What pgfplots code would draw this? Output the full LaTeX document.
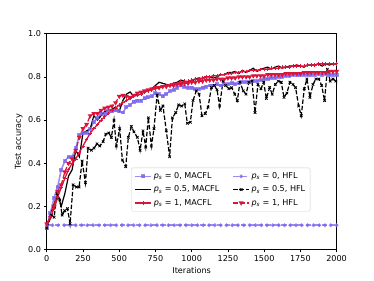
\documentclass[border=0pt]{standalone}
\usepackage{pgfplots}
\pgfplotsset{compat=1.18}
\usepackage{fontspec}
\setmainfont{DejaVu Sans}
\definecolor{msb}{HTML}{7B68EE}
\definecolor{crim}{HTML}{DC143C}
\newcommand{\ps}{\textit{p}\textsubscript{\textit{s}}}
\begin{document}
\begin{tikzpicture}
\begin{axis}[
  scale only axis, width=4.96in, height=3.696in,
  xmin=0, xmax=2000, ymin=0, ymax=1,
  xtick={0,250,...,2000}, ytick={0,0.2,...,1.0},
  /pgf/number format/assume math mode=true,
  /pgf/number format/1000 sep={},
  yticklabel style={/pgf/number format/fixed,/pgf/number format/fixed zerofill,/pgf/number format/precision=1},
  tick align=outside, tick pos=left, major tick length=3.5pt,
  tick style={black, line width=0.8pt},
  axis line style={line width=0.8pt},
  xlabel={Iterations}, ylabel={Test accuracy},
  font=\fontsize{10pt}{12pt}\selectfont,
  legend columns=2,
  legend style={at={(0.6,0.278)}, anchor=center, draw=black!20, rounded corners=2pt,
    fill=white, fill opacity=0.8, text opacity=1, font=\fontsize{10pt}{12pt}\selectfont,
    /tikz/every even column/.append style={column sep=14pt},
    row sep=3.5pt, inner sep=4pt},
  legend cell align=left,
  legend image code/.code={\draw[mark repeat=2,mark phase=2] plot coordinates {(0pt,0pt)(10pt,0pt)(20pt,0pt)};},
]
% MACFL ps=0
\addplot[color=msb, opacity=0.75, line width=1.9pt, mark=square*, mark size=1.5pt] table {
0 0.10
25 0.17
50 0.24
75 0.29
100 0.37
125 0.41
150 0.43
175 0.43
200 0.47
225 0.53
250 0.54
275 0.54
300 0.56
325 0.59
350 0.61
375 0.63
400 0.63
425 0.64
450 0.64
475 0.645
500 0.64
525 0.635
550 0.66
575 0.67
600 0.685
625 0.69
650 0.69
675 0.70
700 0.705
725 0.71
750 0.725
775 0.72
800 0.71
825 0.72
850 0.735
875 0.74
900 0.75
925 0.76
950 0.755
975 0.75
1000 0.75
1025 0.745
1050 0.745
1075 0.75
1100 0.755
1125 0.76
1150 0.76
1175 0.765
1200 0.76
1225 0.765
1250 0.765
1275 0.77
1300 0.765
1325 0.77
1350 0.775
1375 0.775
1400 0.775
1425 0.78
1450 0.78
1475 0.785
1500 0.79
1525 0.79
1550 0.795
1575 0.795
1600 0.80
1625 0.80
1650 0.805
1675 0.805
1700 0.81
1725 0.81
1750 0.81
1775 0.81
1800 0.81
1825 0.81
1850 0.81
1875 0.815
1900 0.81
1925 0.815
1950 0.81
1975 0.81
2000 0.81
};
\addlegendentry{\ps\ = 0, MACFL}
% HFL ps=0
\addplot[color=msb, opacity=0.75, line width=1.9pt, dash pattern=on 7pt off 3pt, mark=*, mark size=1.3pt, mark options={solid}] table {
0 0.113
40 0.113
80 0.113
120 0.113
160 0.113
200 0.113
240 0.113
280 0.113
320 0.113
360 0.113
400 0.113
440 0.113
480 0.113
520 0.113
560 0.113
600 0.113
640 0.113
680 0.113
720 0.113
760 0.113
800 0.113
840 0.113
880 0.113
920 0.113
960 0.113
1000 0.113
1040 0.113
1080 0.113
1120 0.113
1160 0.113
1200 0.113
1240 0.113
1280 0.113
1320 0.113
1360 0.113
1400 0.113
1440 0.113
1480 0.113
1520 0.113
1560 0.113
1600 0.113
1640 0.113
1680 0.113
1720 0.113
1760 0.113
1800 0.113
1840 0.113
1880 0.113
1920 0.113
1960 0.113
2000 0.113
};
\addlegendentry{\ps\ = 0, HFL}
% MACFL ps=0.5
\addplot[color=black, line width=1.5pt, mark=none] table {
0 0.10
25 0.16
50 0.21
75 0.26
100 0.20
125 0.26
150 0.34
175 0.37
200 0.46
225 0.43
250 0.54
275 0.55
300 0.56
325 0.62
350 0.60
375 0.62
400 0.64
425 0.645
450 0.65
475 0.66
500 0.64
525 0.69
550 0.72
575 0.73
600 0.71
625 0.725
650 0.73
675 0.735
700 0.74
725 0.745
750 0.76
775 0.775
800 0.77
825 0.765
850 0.76
875 0.77
900 0.775
925 0.785
950 0.78
975 0.775
1000 0.78
1025 0.79
1050 0.795
1075 0.79
1100 0.80
1125 0.80
1150 0.795
1175 0.80
1200 0.81
1225 0.81
1250 0.82
1275 0.82
1300 0.825
1325 0.815
1350 0.83
1375 0.82
1400 0.83
1425 0.84
1450 0.825
1475 0.835
1500 0.84
1525 0.845
1550 0.835
1575 0.845
1600 0.85
1625 0.84
1650 0.845
1675 0.85
1700 0.85
1725 0.855
1750 0.85
1775 0.845
1800 0.855
1825 0.855
1850 0.855
1875 0.86
1900 0.85
1925 0.86
1950 0.855
1975 0.86
2000 0.86
};
\addlegendentry{\ps\ = 0.5, MACFL}
% HFL ps=0.5
\addplot[color=black, line width=1.5pt, dash pattern=on 5.5pt off 2.4pt, mark=x, mark size=2.2pt, mark options={solid, line width=1pt}] table {
0 0.10
32 0.16
51 0.15
71 0.26
90 0.23
106 0.16
124 0.18
143 0.19
161 0.12
182 0.30
205 0.29
223 0.29
244 0.41
267 0.31
285 0.47
308 0.46
326 0.47
347 0.49
366 0.48
389 0.50
407 0.535
428 0.54
446 0.52
464 0.60
480 0.48
503 0.56
522 0.415
545 0.385
563 0.52
584 0.57
602 0.545
625 0.52
644 0.46
664 0.55
683 0.475
701 0.61
722 0.48
740 0.56
761 0.715
784 0.645
802 0.665
825 0.55
848 0.43
867 0.61
890 0.635
910 0.67
931 0.665
952 0.675
970 0.585
991 0.59
1009 0.69
1032 0.735
1051 0.72
1071 0.62
1094 0.63
1113 0.66
1136 0.75
1156 0.76
1175 0.74
1193 0.665
1216 0.78
1234 0.76
1257 0.745
1276 0.75
1297 0.72
1315 0.69
1333 0.775
1356 0.735
1375 0.72
1395 0.775
1416 0.78
1437 0.635
1457 0.765
1478 0.745
1497 0.775
1515 0.70
1538 0.75
1556 0.72
1577 0.765
1598 0.78
1618 0.775
1637 0.705
1657 0.725
1678 0.775
1699 0.765
1717 0.75
1738 0.665
1756 0.62
1777 0.745
1795 0.79
1816 0.705
1837 0.765
1857 0.79
1878 0.79
1897 0.76
1917 0.69
1936 0.835
1956 0.78
1975 0.79
1995 0.78
};
\addlegendentry{\ps\ = 0.5, HFL}
% MACFL ps=1
\addplot[color=crim, line width=1.6pt, mark=+, mark size=2.2pt, mark options={line width=1pt}] table {
0 0.12
25 0.15
50 0.19
75 0.24
100 0.29
125 0.33
150 0.37
175 0.40
200 0.42
225 0.45
250 0.48
275 0.51
300 0.54
325 0.56
350 0.58
375 0.60
400 0.615
425 0.63
450 0.645
475 0.655
500 0.67
525 0.68
550 0.69
575 0.70
600 0.71
625 0.715
650 0.72
675 0.73
700 0.735
725 0.74
750 0.745
775 0.75
800 0.755
825 0.76
850 0.765
875 0.77
900 0.77
925 0.775
950 0.78
975 0.78
1000 0.785
1025 0.79
1050 0.79
1075 0.795
1100 0.80
1125 0.80
1150 0.805
1175 0.805
1200 0.81
1225 0.81
1250 0.815
1275 0.815
1300 0.82
1325 0.82
1350 0.825
1375 0.825
1400 0.83
1425 0.83
1450 0.83
1475 0.835
1500 0.835
1525 0.835
1550 0.84
1575 0.84
1600 0.84
1625 0.845
1650 0.845
1675 0.845
1700 0.85
1725 0.85
1750 0.85
1775 0.85
1800 0.855
1825 0.855
1850 0.855
1875 0.86
1900 0.86
1925 0.86
1950 0.86
1975 0.86
2000 0.86
};
\addlegendentry{\ps\ = 1, MACFL}
% HFL ps=1
\addplot[color=crim, line width=1.6pt, dash pattern=on 6pt off 2.6pt, mark=triangle*, mark size=2pt, mark options={solid, rotate=180}] table {
0 0.12
25 0.15
50 0.20
75 0.27
100 0.30
125 0.36
150 0.40
175 0.42
200 0.46
225 0.52
250 0.56
275 0.58
300 0.62
325 0.63
350 0.63
375 0.645
400 0.655
425 0.66
450 0.665
475 0.68
500 0.71
525 0.715
550 0.71
575 0.705
600 0.715
625 0.725
650 0.73
675 0.735
700 0.74
725 0.745
750 0.75
775 0.75
800 0.755
825 0.755
850 0.76
875 0.76
900 0.765
925 0.765
950 0.77
975 0.77
1000 0.775
1025 0.775
1050 0.78
1075 0.78
1100 0.785
1125 0.785
1150 0.785
1175 0.79
1200 0.79
1225 0.79
1250 0.795
1275 0.795
1300 0.795
1325 0.80
1350 0.80
1375 0.80
1400 0.80
1425 0.805
1450 0.805
1475 0.805
1500 0.805
1525 0.81
1550 0.81
1575 0.81
1600 0.81
1625 0.81
1650 0.815
1675 0.815
1700 0.815
1725 0.815
1750 0.815
1775 0.82
1800 0.82
1825 0.82
1850 0.82
1875 0.82
1900 0.82
1925 0.82
1950 0.825
1975 0.825
2000 0.825
};
\addlegendentry{\ps\ = 1, HFL}
\end{axis}
\path ([shift={(-0.8in,-0.528in)}]current axis.south west) rectangle ([shift={(0.64in,0.576in)}]current axis.north east);
\end{tikzpicture}
\end{document}
